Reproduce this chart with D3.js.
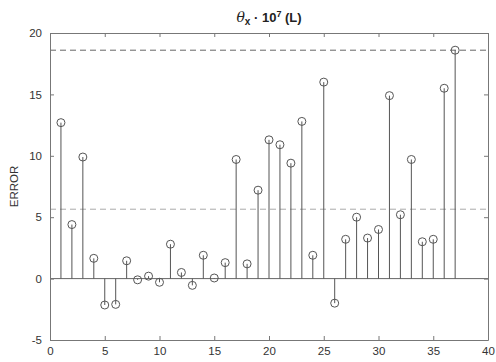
<!DOCTYPE html>
<html>
<head>
<meta charset="utf-8">
<script src="https://cdn.jsdelivr.net/npm/d3@7"></script>
<style>
  body { margin: 0; background: #fff; }
  svg text { font-family: "Liberation Sans", Arial, sans-serif; }
</style>
</head>
<body>
<div id="chart"></div>
<script>
// Stem plot data
var xs = d3.range(1, 38)
var errors = [12.7, 4.4, 9.9, 1.65, -2.15, -2.1, 1.45, -0.1, 0.2, -0.3,
  2.8, 0.5, -0.55, 1.9, 0.05, 1.3, 9.7, 1.2, 7.2, 11.3,
  10.9, 9.4, 12.8, 1.9, 16.0, -2.0, 3.2, 5.0, 3.3, 4.0,
  14.9, 5.2, 9.7, 3.0, 3.2, 15.5, 18.6]
var thresholds = [18.6, 5.65]
var xTicks = [0, 5, 10, 15, 20, 25, 30, 35, 40]
var yTicks = [-5, 0, 5, 10, 15, 20]

var width = 496
var height = 362
var margin = { top: 33, right: 8, bottom: 22, left: 50 }

var xScale = d3.scaleLinear().domain([0, 40]).range([margin.left, width - margin.right])
var yScale = d3.scaleLinear().domain([-5, 20]).range([height - margin.bottom, margin.top])

var svg = d3.select('#chart')
  .append('svg')
  .attr('width', width)
  .attr('height', height)

var axisColor = '#777'

// threshold lines
svg.selectAll('line.thr')
  .data(thresholds)
  .enter()
  .append('line')
  .attr('class', 'thr')
  .attr('x1', xScale(0))
  .attr('x2', xScale(40))
  .attr('y1', d => yScale(d))
  .attr('y2', d => yScale(d))
  .attr('stroke', (d, i) => i == 0 ? '#666' : '#aaa')
  .attr('stroke-width', 1)
  .attr('stroke-dasharray', '6,4')

// baseline at 0
svg.append('line')
  .attr('x1', xScale(0))
  .attr('x2', xScale(40))
  .attr('y1', yScale(0))
  .attr('y2', yScale(0))
  .attr('stroke', '#666')
  .attr('stroke-width', 1)

// stems
svg.selectAll('line.stem')
  .data(errors)
  .enter()
  .append('line')
  .attr('class', 'stem')
  .attr('x1', (d, i) => xScale(xs[i]))
  .attr('x2', (d, i) => xScale(xs[i]))
  .attr('y1', yScale(0))
  .attr('y2', d => yScale(d))
  .attr('stroke', '#555')
  .attr('stroke-width', 1)

svg.selectAll('circle')
  .data(errors)
  .enter()
  .append('circle')
  .attr('cx', (d, i) => xScale(xs[i]))
  .attr('cy', d => yScale(d))
  .attr('r', 4)
  .attr('fill', 'none')
  .attr('stroke', '#555')
  .attr('stroke-width', 1)

// axes box with inward ticks
var plain = d => String(d)
var bottomAxis = d3.axisBottom(xScale).tickValues(xTicks).tickSizeInner(-4).tickSizeOuter(0).tickPadding(7).tickFormat(plain)
var topAxis = d3.axisTop(xScale).tickValues(xTicks).tickSizeInner(-4).tickSizeOuter(0).tickFormat('')
var leftAxis = d3.axisLeft(yScale).tickValues(yTicks).tickSizeInner(-4).tickSizeOuter(0).tickPadding(8).tickFormat(plain)
var rightAxis = d3.axisRight(yScale).tickValues(yTicks).tickSizeInner(-4).tickSizeOuter(0).tickFormat('')

var gb = svg.append('g').attr('transform', `translate(0,${yScale(-5)})`).call(bottomAxis)
var gt = svg.append('g').attr('transform', `translate(0,${yScale(20)})`).call(topAxis)
var gl = svg.append('g').attr('transform', `translate(${xScale(0)},0)`).call(leftAxis)
var gr = svg.append('g').attr('transform', `translate(${xScale(40)},0)`).call(rightAxis)

;[gb, gt, gl, gr].forEach(g => {
  g.attr('color', '#333')
  g.selectAll('path, line').attr('stroke', axisColor)
  g.selectAll('text').attr('font-size', 11.5).attr('fill', '#333')
})

// y label
svg.append('text')
  .text('ERROR')
  .attr('transform', `translate(18,${(yScale(20) + yScale(-5)) / 2}) rotate(-90)`)
  .attr('text-anchor', 'middle')
  .attr('font-size', 11.5)
  .attr('fill', '#333')

// title
var title = svg.append('text')
  .attr('x', (xScale(0) + xScale(40)) / 2)
  .attr('y', 22)
  .attr('text-anchor', 'middle')
  .attr('font-size', 13)
  .attr('font-weight', 'bold')
  .attr('fill', '#222')
title.append('tspan').text('θ').attr('font-style', 'italic').attr('font-family', 'DejaVu Serif').attr('font-weight', 'normal').attr('font-size', 14)
title.append('tspan').text('x').attr('dy', 3).attr('font-size', 10)
title.append('tspan').text(' · 10').attr('dy', -3)
title.append('tspan').text('7').attr('dy', -5).attr('font-size', 9)
title.append('tspan').text(' (L)').attr('dy', 5)
</script>
</body>
</html>
